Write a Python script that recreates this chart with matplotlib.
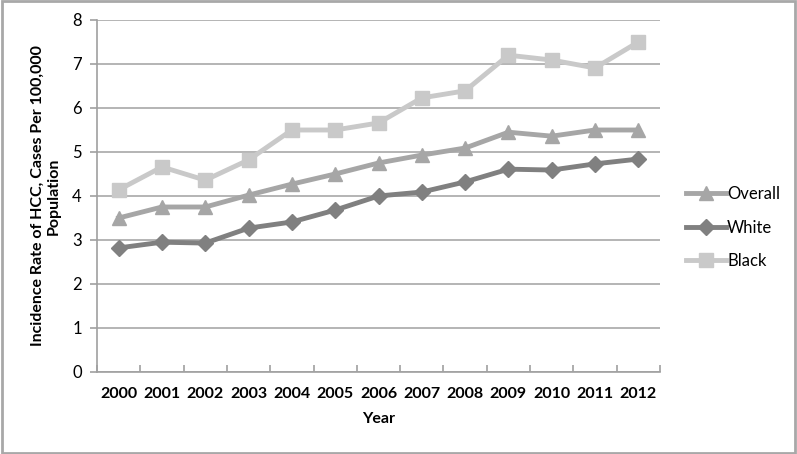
import matplotlib
matplotlib.use("Agg")
import matplotlib.pyplot as plt
from matplotlib.patches import Rectangle

plt.rcParams['font.family'] = ['Lato', 'DejaVu Sans']

years = [str(y) for y in range(2000, 2013)]
overall = [3.5, 3.75, 3.75, 4.02, 4.27, 4.5, 4.75, 4.93, 5.09, 5.45, 5.36, 5.5, 5.5]
white = [2.82, 2.95, 2.93, 3.27, 3.41, 3.68, 4.0, 4.09, 4.32, 4.61, 4.59, 4.73, 4.84]
black = [4.14, 4.66, 4.36, 4.82, 5.5, 5.5, 5.66, 6.23, 6.39, 7.2, 7.09, 6.91, 7.5]

fig = plt.figure(figsize=(7.97, 4.54), dpi=100)
ax = fig.add_axes([97 / 797, 1 - 372 / 454, 563 / 797, 352 / 454])

x = range(len(years))
ax.plot(x, overall, color='#a6a6a6', lw=3.5, marker='^', ms=10, label='Overall', zorder=3)
ax.plot(x, white, color='#808080', lw=3.5, marker='D', ms=8, label='White', zorder=3)
ax.plot(x, black, color='#c9c9c9', lw=3.5, marker='s', ms=10, label='Black', zorder=3)

ax.set_xlim(-0.5, len(years) - 0.5)
ax.set_ylim(0, 8)
ax.set_yticks(range(0, 9))
ax.set_xticks(x)
ax.set_xticklabels(years, fontweight='bold', fontsize=11.5)
ax.set_xticks([i - 0.5 for i in range(len(years) + 1)], minor=True)
ax.tick_params(axis='x', which='major', length=0, pad=11)
ax.tick_params(axis='x', which='minor', length=5, color='#a0a0a0', width=1.2, direction='in')
ax.tick_params(axis='y', length=5, color='#a0a0a0', width=1.2, labelsize=12, pad=6)
ax.grid(axis='y', color='#a8a8a8', lw=1.2)
ax.set_axisbelow(True)
for s in ['top', 'right']:
    ax.spines[s].set_visible(False)
ax.spines['left'].set_color('#a0a0a0')
ax.spines['bottom'].set_color('#a0a0a0')
ax.spines['left'].set_linewidth(1.2)
ax.spines['bottom'].set_linewidth(1.2)

ax.set_xlabel('Year', fontweight='bold', fontsize=11.5, labelpad=8)
ax.set_ylabel('Incidence Rate of HCC, Cases Per 100,000\nPopulation', fontweight='bold',
              fontsize=11.5, labelpad=8)

ax.legend(loc='center left', bbox_to_anchor=(1.02, 0.41), frameon=False, fontsize=12,
          handlelength=2.4, labelspacing=1.05, handletextpad=0.05)

fig.patches.append(Rectangle((0.002, 0.003), 0.996, 0.994, transform=fig.transFigure,
                             fill=False, ec='#a8a8a8', lw=2))

fig.savefig('out.png', dpi=100)
